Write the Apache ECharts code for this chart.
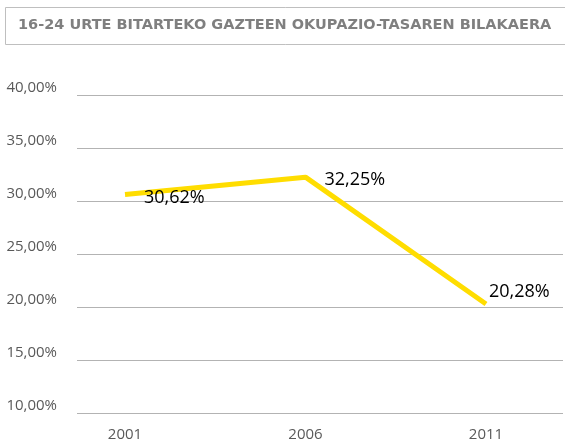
<!DOCTYPE html>
<html>
<head>
<meta charset="utf-8">
<script src="https://cdn.jsdelivr.net/npm/echarts@6/dist/echarts.min.js"></script>
<style>
  html, body { margin: 0; padding: 0; background: #fff; }
  #main { width: 565px; height: 444px; }
</style>
</head>
<body>
<div id="main"></div>
<script>
var years = ['2001', '2006', '2011'];
var rates = [30.62, 32.25, 20.28];
var yMin = 10, yMax = 40, yStep = 5;
var titleText = '16-24 URTE BITARTEKO GAZTEEN OKUPAZIO-TASAREN BILAKAERA';

var myChart = echarts.init(document.getElementById('main'));

var fmt = function (v) {
    return Number(v).toFixed(2).replace('.', ',') + '%';
};

// label placement per point (Excel puts them a bit differently)
var labelOffsets = [[14, 3], [14, 3], [-2, -12]];

var option = {
    backgroundColor: '#fff',
    animation: false,
    title: {
        text: titleText,
        left: 13,
        top: 13,
        textStyle: {
            fontFamily: 'DejaVu Sans',
            fontWeight: 'bold',
            fontSize: 14.5,
            color: '#7f7f7f'
        }
    },
    graphic: [{
        type: 'rect',
        shape: { x: 5.5, y: 7.5, width: 570, height: 37 },
        style: { fill: 'none', stroke: '#bfbfbf', lineWidth: 1 }
    }],
    grid: [
        { left: 77, right: 2, top: 95, bottom: 31 },
        { left: 125, right: 79, top: 95, bottom: 31 }
    ],
    xAxis: [
        { gridIndex: 0, type: 'category', data: years, show: false },
        {
            gridIndex: 1,
            type: 'category',
            data: years,
            boundaryGap: false,
            axisLine: { show: false },
            axisTick: { show: false },
            axisLabel: {
                margin: 14,
                fontFamily: 'Open Sans',
                fontSize: 15,
                color: '#595959'
            }
        }
    ],
    yAxis: [
        {
            gridIndex: 0,
            type: 'value',
            min: yMin,
            max: yMax,
            interval: yStep,
            axisLine: { show: false },
            axisTick: { show: false },
            splitLine: { lineStyle: { color: '#b3b3b3', width: 1 } },
            axisLabel: {
                margin: 20,
                verticalAlign: 'bottom',
                fontFamily: 'Open Sans',
                fontSize: 15,
                color: '#595959',
                formatter: fmt
            }
        },
        {
            gridIndex: 1,
            type: 'value',
            min: yMin,
            max: yMax,
            interval: yStep,
            show: false
        }
    ],
    series: [{
        type: 'line',
        xAxisIndex: 1,
        yAxisIndex: 1,
        showSymbol: true,
        symbol: 'circle',
        symbolSize: 0,
        lineStyle: { color: '#ffdd00', width: 5 },
        itemStyle: { color: '#ffdd00' },
        label: {
            show: true,
            position: 'right',
            fontFamily: 'Open Sans',
            fontSize: 18,
            color: '#000',
            formatter: function (p) { return fmt(p.value); }
        },
        data: rates.map(function (v, i) {
            return {
                value: v,
                label: { offset: labelOffsets[i] }
            };
        })
    }]
};

myChart.setOption(option);
</script>
</body>
</html>
